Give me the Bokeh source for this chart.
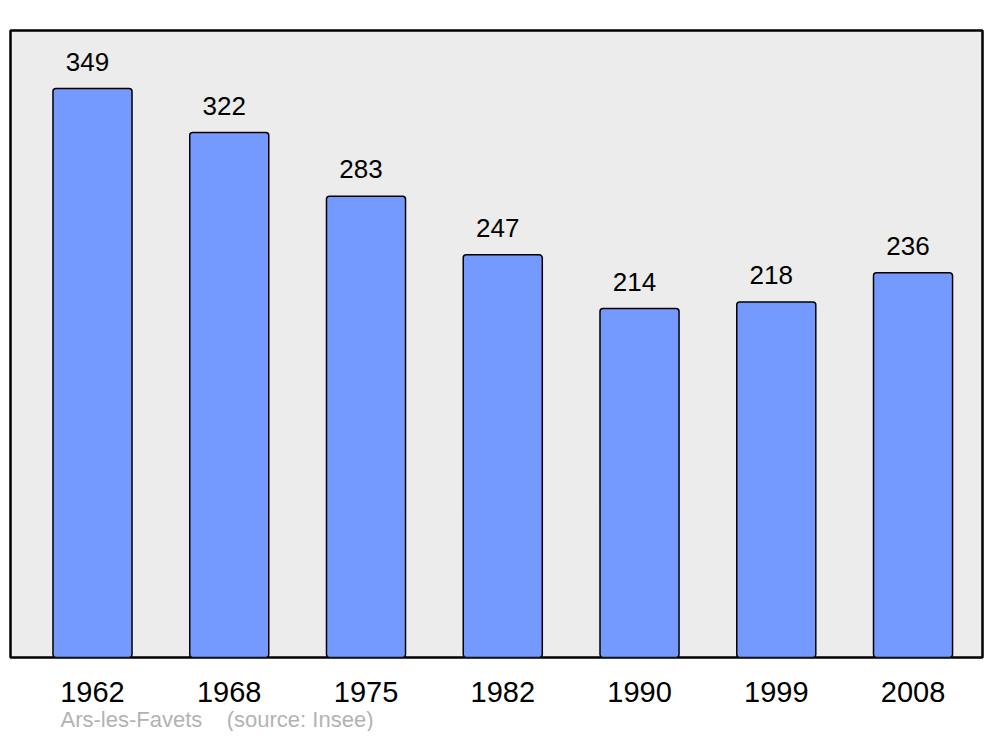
from bokeh.plotting import figure
from bokeh.models import Range1d, FixedTicker, Title, ColumnDataSource
from bokeh.core.properties import value
from bokeh.embed import file_html
from bokeh.resources import INLINE

years = ["1962", "1968", "1975", "1982", "1990", "1999", "2008"]
population = [349, 322, 283, 247, 214, 218, 236]
caption = "Ars-les-Favets\u00a0\u00a0\u00a0\u00a0(source: Insee)"

idx = list(range(len(years)))
src = ColumnDataSource(dict(x=idx, top=population, lab=[str(v) for v in population]))

p = figure(width=984, height=731, output_backend="svg", toolbar_location=None,
           x_range=Range1d(-0.5996, 6.508), y_range=Range1d(0, 384.6),
           y_axis_location=None, min_border_left=10, min_border_right=2,
           min_border_top=30, min_border_bottom=10)
p.background_fill_color = "#ececec"
p.border_fill_color = "white"
p.outline_line_color = "black"
p.outline_line_width = 2.5
p.xgrid.visible = False
p.ygrid.visible = False

p.vbar(x="x", top="top", bottom=0, width=0.578, source=src,
       fill_color="#7499ff", line_color="black", line_width=1.5, border_radius=3)
p.text(x="x", y="top", text="lab", source=src, x_offset=-5, y_offset=-27,
       text_align="center", text_baseline="middle", text_font=value("Liberation Sans"),
       text_font_size="26px", text_color="black")

ax = p.xaxis[0]
ax.ticker = FixedTicker(ticks=idx)
ax.major_label_overrides = {i: y for i, y in zip(idx, years)}
ax.axis_line_color = None
ax.major_tick_line_color = None
ax.minor_tick_line_color = None
ax.major_tick_out = 0
ax.major_label_standoff = 24
ax.major_label_text_font = "Liberation Sans"
ax.major_label_text_font_size = "29px"
ax.major_label_text_color = "black"

p.add_layout(Title(text=caption, align="left", offset=50, standoff=0,
                   text_font="Liberation Sans", text_font_size="22px",
                   text_font_style="normal", text_color="#b3b3b3"), "below")

open("out.html", "w").write(file_html(p, INLINE))
